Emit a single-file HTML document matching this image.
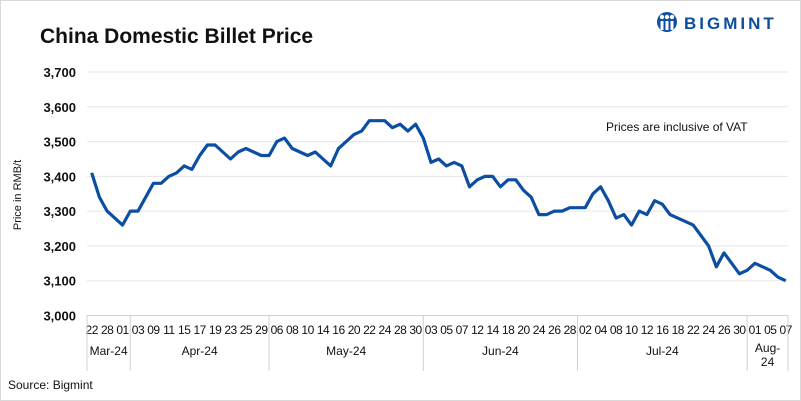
<!DOCTYPE html>
<html><head><meta charset="utf-8"><style>
html,body{margin:0;padding:0;background:#fff}
body{width:801px;height:401px;overflow:hidden;font-family:"Liberation Sans",sans-serif}
#frame{position:absolute;left:0;top:0;width:799px;height:399px;border:1px solid #d9d9d9}
</style></head><body>
<div id="frame"></div>
<svg id="chart" width="801" height="401" style="position:absolute;left:0;top:0">
<text x="40" y="43" font-size="21" font-weight="bold" fill="#111">China Domestic Billet Price</text>
<g>
<circle cx="667" cy="22" r="10" fill="#0b4ea2"/>
<circle cx="662" cy="17" r="2.2" fill="#fff"/><circle cx="667" cy="17" r="2.2" fill="#fff"/><circle cx="672" cy="17" r="2.2" fill="#fff"/>
<rect x="660.5" y="21" width="3" height="9" fill="#fff"/><rect x="665.5" y="21" width="3" height="9" fill="#fff"/><rect x="670.5" y="21" width="3" height="9" fill="#fff"/>
<text x="684" y="29" font-size="17" font-weight="bold" fill="#0b4ea2" letter-spacing="3">BIGMINT</text>
</g>
<text x="21" y="195" font-size="11" fill="#111" transform="rotate(-90 21 195)" text-anchor="middle">Price in RMB/t</text>
<text x="606" y="131" font-size="12" fill="#111">Prices are inclusive of VAT</text>
<g id="grid"></g><g id="yt"></g><g id="xt"></g><g id="mo"></g>
<polyline id="line" fill="none" stroke="#0b4ea2" stroke-width="3.2" stroke-linejoin="round"/>
<text x="8" y="389" font-size="12" fill="#111">Source: Bigmint</text>
</svg>
<script>
const values=[3410,3340,3300,3280,3260,3300,3300,3340,3380,3380,3400,3410,3430,3420,3460,3490,3490,3470,3450,3470,3480,3470,3460,3460,3500,3510,3480,3470,3460,3470,3450,3430,3480,3500,3520,3530,3560,3560,3560,3540,3550,3530,3550,3510,3440,3450,3430,3440,3430,3370,3390,3400,3400,3370,3390,3390,3360,3340,3290,3290,3300,3300,3310,3310,3310,3350,3370,3330,3280,3290,3260,3300,3290,3330,3320,3290,3280,3270,3260,3230,3200,3140,3180,3150,3120,3130,3150,3140,3130,3110,3100];
const xLabels=["22","28","01","03","09","11","15","17","19","23","25","29","06","08","10","14","16","20","22","24","28","30","03","05","07","12","14","18","20","24","26","28","02","04","08","10","12","16","18","22","24","26","30","01","05","07"];
const yTicks=[3000,3100,3200,3300,3400,3500,3600,3700];
const months=["Mar-24","Apr-24","May-24","Jun-24","Jul-24","Aug-24"];
const monthStartLabel=[0,3,12,22,32,43];
const NS="http://www.w3.org/2000/svg";
const X0=91.7,X1=785.7,L=87,R=788;
const x=i=>X0+i*(X1-X0)/(values.length-1);
const y=v=>315.5-(v-3000)*(243.5/700);
function mk(t,a,p){const e=document.createElementNS(NS,t);for(const k in a)e.setAttribute(k,a[k]);document.getElementById(p).appendChild(e);return e;}
yTicks.forEach(v=>{
 const g=mk('line',{x1:L,x2:R,y1:y(v),y2:y(v),stroke:v===3000?'#d0d0d0':'#e6e6e6','stroke-width':1},'grid');
 
 
 const t=mk('text',{x:76,y:y(v)+5,'font-size':13,'font-weight':'bold','text-anchor':'end',fill:'#111'},'yt');
 t.textContent=v.toLocaleString('en-US');
 
 
});
xLabels.forEach((s,k)=>{
 const t=mk('text',{x:x(k*2),y:334,'font-size':12,'text-anchor':'middle',fill:'#111','letter-spacing':'-0.5'},'xt');
 t.textContent=s;
 
 
});
const bounds=monthStartLabel.map(k=>k===0?L:(x(k*2)+x(k*2-2))/2);bounds.push(R);
bounds.forEach(b=>{const l=mk('line',{x1:b,x2:b,y1:315.5,y2:371,stroke:'#d0d0d0'},'mo');
 
 });
months.forEach((m,i)=>{
 const cx=(bounds[i]+bounds[i+1])/2;
 const t=mk('text',{x:cx,y:355,'font-size':12,'text-anchor':'middle',fill:'#111'},'mo');
 
 
 if(m==="Aug-24"){t.setAttribute('y',352);const a=mk('tspan',{x:cx},'mo');t.appendChild(a);a.textContent="Aug-";const b=mk('tspan',{x:cx,dy:14},'mo');t.appendChild(b);b.textContent="24";}
 else t.textContent=m;
});
document.getElementById('line').setAttribute('points',values.map((v,i)=>x(i).toFixed(1)+','+y(v).toFixed(1)).join(' '));
</script>
</body></html>
